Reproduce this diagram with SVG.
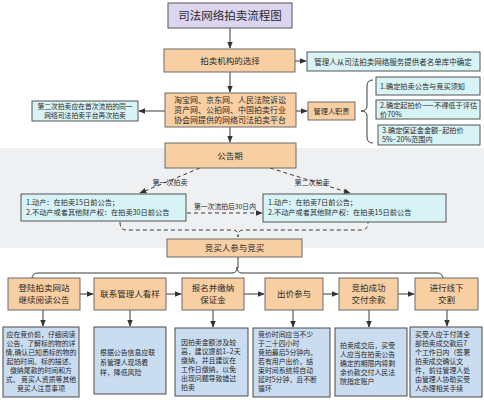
<svg xmlns="http://www.w3.org/2000/svg" width="484" height="400" viewBox="0 0 484 400">
<style>
text{font-family:"Noto Sans CJK SC","Noto Sans",sans-serif;fill:#2a2a2a}
.pe{fill:#f8cfa3;stroke:#6b6b6b;stroke-width:1}
.cy{fill:#d7f3f6;stroke:#555;stroke-width:1}
.bl{fill:#c9dcf0;stroke:#4a4a4a;stroke-width:1}
.ln{fill:none;stroke:#3a3a3a;stroke-width:1}
.ds{fill:none;stroke:#3a3a3a;stroke-width:1;stroke-dasharray:4 3}
.c{text-anchor:middle}
.m{font-size:8.5px}
.s{font-size:7.2px}
.n{font-size:6.9px}
</style>
<defs>
<marker id="ah" viewBox="0 0 10 10" refX="9" refY="5" markerWidth="7" markerHeight="7" orient="auto" markerUnits="userSpaceOnUse"><path d="M0,1 L10,5 L0,9 Z" fill="#333"/></marker>
</defs>
<rect width="484" height="400" fill="#ffffff"/>
<rect x="0" y="148" width="484" height="100" fill="#eef0f2"/>

<g id="connectors">
<line class="ln" x1="230" y1="28" x2="230" y2="48" marker-end="url(#ah)"/>
<line class="ln" x1="295" y1="61" x2="306" y2="61" marker-end="url(#ah)"/>
<line class="ln" x1="230" y1="72" x2="230" y2="92" marker-end="url(#ah)"/>
<line class="ln" x1="165" y1="111" x2="139" y2="111" marker-end="url(#ah)"/>
<line class="ln" x1="296" y1="111" x2="307" y2="111" marker-end="url(#ah)"/>
<path class="ln" d="M373,80 Q367,80 367,86 L367,106 Q367,111 361,111 Q367,111 367,116 L367,137 Q367,143 373,143"/>
<line class="ln" x1="230" y1="127" x2="230" y2="142" marker-end="url(#ah)"/>
<line class="ds" x1="200" y1="168" x2="140" y2="193" marker-end="url(#ah)"/>
<line class="ds" x1="270" y1="168" x2="350" y2="193" marker-end="url(#ah)"/>
<line class="ds" x1="187" y1="213" x2="262" y2="213" marker-end="url(#ah)"/>
<path class="ds" d="M120,222 Q120,230 126,230 L233,230 Q238,230 238,237 Q238,230 243,230 L362,230 Q368,230 368,222"/>
<line class="ln" x1="238" y1="257" x2="238" y2="268"/>
<path class="ln" d="M32,279 Q32,273 38,273 L232,273 Q237,273 237,267 Q237,273 242,273 L437,273 Q443,273 443,279"/>
<line class="ln" x1="80" y1="294" x2="93" y2="294" marker-end="url(#ah)"/>
<line class="ln" x1="166" y1="294" x2="181" y2="294" marker-end="url(#ah)"/>
<line class="ln" x1="244" y1="294" x2="264" y2="294" marker-end="url(#ah)"/>
<line class="ln" x1="323" y1="294" x2="338" y2="294" marker-end="url(#ah)"/>
<line class="ln" x1="398" y1="294" x2="414" y2="294" marker-end="url(#ah)"/>
<line class="ln" x1="43" y1="310" x2="43" y2="326" marker-end="url(#ah)"/>
<line class="ln" x1="130" y1="310" x2="130" y2="326" marker-end="url(#ah)"/>
<line class="ln" x1="213" y1="310" x2="213" y2="327" marker-end="url(#ah)"/>
<line class="ln" x1="293" y1="310" x2="293" y2="327" marker-end="url(#ah)"/>
<line class="ln" x1="369" y1="310" x2="369" y2="327" marker-end="url(#ah)"/>
<line class="ln" x1="447" y1="310" x2="447" y2="326" marker-end="url(#ah)"/>
</g>

<g id="title"><rect x="168" y="3" width="124" height="25" fill="#ddd4ef" stroke="#555" stroke-width="1"/><text class="c" x="230" y="20" font-size="11.5">司法网络拍卖流程图</text></g>
<g id="choose"><rect class="pe" x="164" y="49" width="131" height="23"/><text class="c m" x="230" y="64">拍卖机构的选择</text></g>
<g id="list"><rect class="cy" x="307" y="52" width="173" height="19"/><text class="c" x="393" y="64.5" font-size="7.5">管理人从司法拍卖网络服务提供者名单库中确定</text></g>
<g id="platform"><rect class="pe" x="165" y="93" width="131" height="34"/><text class="c" font-size="8"><tspan x="230" y="103">淘宝网、京东网、人民法院诉讼</tspan><tspan x="230" y="113">资产网、公拍网、中国拍卖行业</tspan><tspan x="230" y="123">协会网提供的网络司法拍卖平台</tspan></text></g>
<g id="second"><rect class="cy" x="32" y="101" width="106" height="20"/><text class="c" font-size="6.8"><tspan x="85" y="109">第二次拍卖应在首次流拍的同一</tspan><tspan x="85" y="118">网络司法拍卖平台再次拍卖</tspan></text></g>
<g id="duty"><rect class="pe" x="308" y="102" width="47" height="18"/><text class="c s" x="331.5" y="113.5">管理人职责</text></g>
<g id="d1"><rect class="cy" x="376" y="77" width="104" height="18"/><text class="s" x="380" y="88.5">1.确定拍卖公告与竞买须知</text></g>
<g id="d2"><rect class="cy" x="376" y="100" width="104" height="19"/><text class="s"><tspan x="380" y="108">2.确定起拍价——不得低于评估</tspan><tspan x="380" y="116.5">价70%</tspan></text></g>
<g id="d3"><rect class="cy" x="378" y="125" width="102" height="20"/><text class="s"><tspan x="382" y="133">3.确定保证金金额–起拍价</tspan><tspan x="382" y="142">5%–20%范围内</tspan></text></g>
<g id="notice"><rect class="pe" x="165" y="143" width="131" height="25"/><text class="c m" x="230" y="159">公告期</text></g>
<text class="c" x="170" y="185" font-size="7">第一次拍卖</text>
<text class="c" x="312" y="185" font-size="7">第二次拍卖</text>
<text class="c" x="225" y="209" font-size="6.8">第一次流拍后30日内</text>
<g id="first-rule"><rect class="cy" x="21" y="194" width="165" height="27"/><text class="s"><tspan x="26" y="205">1.动产：在拍卖15日前公告；</tspan><tspan x="26" y="215">2.不动产或者其他财产权：在拍卖30日前公告</tspan></text></g>
<g id="second-rule"><rect class="cy" x="263" y="194" width="183" height="28"/><text class="s"><tspan x="268" y="205">1.动产：在拍卖7日前公告；</tspan><tspan x="268" y="215">2.不动产或者其他财产权：在拍卖15日前公告</tspan></text></g>
<g id="bid"><rect class="pe" x="167" y="239" width="135" height="18"/><text class="c m" x="234.5" y="251">竞买人参与竞买</text></g>

<g id="s1"><rect class="pe" x="8" y="278" width="72" height="32"/><text class="c m"><tspan x="44" y="291">登陆拍卖网站</tspan><tspan x="44" y="303">继续阅读公告</tspan></text></g>
<g id="s2"><rect class="pe" x="94" y="278" width="72" height="32"/><text class="c m" x="130" y="297">联系管理人看样</text></g>
<g id="s3"><rect class="pe" x="182" y="278" width="62" height="32"/><text class="c m"><tspan x="213" y="291">报名并缴纳</tspan><tspan x="213" y="303">保证金</tspan></text></g>
<g id="s4"><rect class="pe" x="265" y="278" width="58" height="32"/><text class="c m" x="294" y="297">出价参与</text></g>
<g id="s5"><rect class="pe" x="339" y="278" width="59" height="32"/><text class="c m"><tspan x="368.5" y="291">竞拍成功</tspan><tspan x="368.5" y="303">交付余款</tspan></text></g>
<g id="s6"><rect class="pe" x="415" y="278" width="63" height="32"/><text class="c m"><tspan x="446.5" y="291">进行线下</tspan><tspan x="446.5" y="303">交割</tspan></text></g>

<g id="n1"><rect class="bl" x="3" y="327" width="76" height="70"/><text class="c n"><tspan x="41" y="337">应在竞价前，仔细阅读</tspan><tspan x="41" y="346">公告，了解标的物的详</tspan><tspan x="41" y="355">情,确认已知悉标的物的</tspan><tspan x="41" y="364">起拍时间、标的描述、</tspan><tspan x="41" y="373">缴纳尾款的时间和方</tspan><tspan x="41" y="382">式、 竞买人资质等其他</tspan><tspan x="41" y="391">竞买人注意事项</tspan></text></g>
<g id="n2"><rect class="bl" x="94" y="327" width="72" height="67"/><text class="n"><tspan x="100" y="355">根据公告信息应联</tspan><tspan x="100" y="365">系管理人现场看</tspan><tspan x="100" y="375">样，降低风险</tspan></text></g>
<g id="n3"><rect class="bl" x="175" y="328" width="73" height="68"/><text class="n"><tspan x="181" y="345">因拍卖金额涉及较</tspan><tspan x="181" y="354">高，建议提前1–2天</tspan><tspan x="181" y="363">缴纳，并且建议在</tspan><tspan x="181" y="372">工作日缴纳，以免</tspan><tspan x="181" y="381">出现问题导致错过</tspan><tspan x="181" y="390">拍卖</tspan></text></g>
<g id="n4"><rect class="bl" x="253" y="328" width="77" height="69"/><text class="n"><tspan x="258" y="337">竞价时间应当不少</tspan><tspan x="258" y="346">于二十四小时</tspan><tspan x="258" y="355">竞拍最后5分钟内，</tspan><tspan x="258" y="364">若有用户出价，结</tspan><tspan x="258" y="373">束时间系统将自动</tspan><tspan x="258" y="382">延时5分钟，且不断</tspan><tspan x="258" y="391">循环</tspan></text></g>
<g id="n5"><rect class="bl" x="335" y="328" width="72" height="68"/><text class="n"><tspan x="340" y="348">拍卖成交后，买受</tspan><tspan x="340" y="357">人应当在拍卖公告</tspan><tspan x="340" y="366">确定的期限内将剩</tspan><tspan x="340" y="375">余价款交付人民法</tspan><tspan x="340" y="384">院指定账户</tspan></text></g>
<g id="n6"><rect class="bl" x="410" y="327" width="72" height="70"/><text class="n"><tspan x="415" y="337">买受人应于付清全</tspan><tspan x="415" y="346">部拍卖成交款后7</tspan><tspan x="415" y="355">个工作日内（签署</tspan><tspan x="415" y="364">拍卖成交确认文</tspan><tspan x="415" y="373">件，前往管理人处</tspan><tspan x="415" y="382">由管理人协助买受</tspan><tspan x="415" y="391">人办理相关手续</tspan></text></g>
</svg>
